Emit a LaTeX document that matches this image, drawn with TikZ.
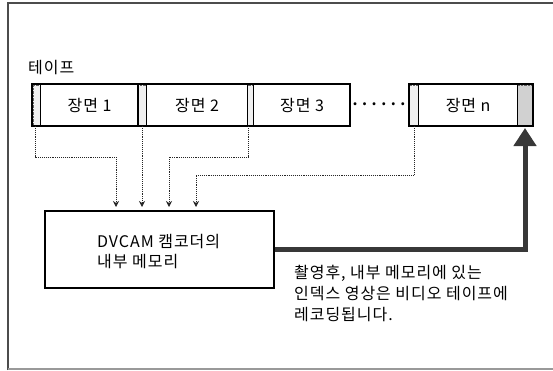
\documentclass[tikz,border=0pt]{standalone}
\usepackage{fontspec}
\setmainfont{Noto Sans CJK KR}[LetterSpace=6]
\usetikzlibrary{arrows.meta}
\begin{document}
\begin{tikzpicture}[x=1pt,y=-1pt,
  txt/.style={font=\fontsize{16}{20}\selectfont, inner sep=0pt},
  scene/.style={draw, line width=1.2pt, minimum height=42pt, inner sep=0pt, anchor=north west, font=\fontsize{16}{20}\selectfont},
  strip/.style={draw=black!60, densely dotted, fill=black!6},
  conn/.style={draw=black!85, densely dotted, line width=0.9pt, -{Stealth[length=6pt,width=6pt]}},
  bigarrow/.style={draw=black!78, line width=5pt, -{Triangle[length=18pt,width=22pt]}},
  box/.style={draw, line width=1.6pt, inner sep=0pt, align=left}]
\useasboundingbox (0,0) rectangle (553,370);
% frame
\draw[black!70, line width=1.5pt] (8,370) -- (8,3) -- (553,3);
\draw[black!40, line width=1.5pt] (8,369) -- (553,369);
% label
\node[txt, anchor=west] (lab) at (28,68) {테이프};
% strips
\path[strip] (33,85) rectangle (40,125);
\path[strip] (138,85) rectangle (146,125);
\path[strip] (247,85) rectangle (253,125);
\path[strip] (409,85) rectangle (418,125);
\path[strip, fill=black!18] (517,85) rectangle (533,125);
% scenes
\node[scene, minimum width=98pt] (s1) at (40,84) {장면 1};
\node[scene, minimum width=101pt] (s2) at (146,84) {장면 2};
\node[scene, minimum width=97pt] (s3) at (253,84) {장면 3};
\node[scene, minimum width=99pt] (sn) at (418,84) {장면 n};
\draw[line width=2pt] (32,84) rectangle (350,126);
\draw[line width=2pt] (409,84) rectangle (533,126);
\draw[line width=1.2pt] (138,84) -- (138,126);
\node[txt, font=\fontsize{14}{20}\selectfont\bfseries] (dots) at (379,106) {·\hspace{1pt}·\hspace{1pt}·\hspace{1pt}·\hspace{1pt}·\hspace{1pt}·};
% memory box
\node[box, minimum width=229pt, minimum height=77pt, anchor=north west] (mem) at (44,210) {};
\node[txt, align=left, anchor=west, font=\fontsize{16}{20}\selectfont] (memtxt) at (97,252) {DVCAM 캠코더의\\내부 메모리};
% caption
\node[txt, align=left, anchor=north west, font=\fontsize{16}{21}\selectfont] (cap) at (294,265) {촬영후, 내부 메모리에 있는\\인덱스 영상은 비디오 테이프에\\레코딩됩니다.};
% connector points
\coordinate (c1) at (35,126);
\coordinate (c2) at (142,126);
\coordinate (c3) at (248,126);
\coordinate (c4) at (414,126);
\coordinate (m1) at (116,207);
\coordinate (m2) at (142,207);
\coordinate (m3) at (169,207);
\coordinate (m4) at (196,207);
\coordinate (tip) at (525,128);
\draw[conn] (c1) -- (c1 |- 0,157) -| (m1);
\draw[conn] (c2) -- (m2);
\draw[conn] (c3) -- (c3 |- 0,157) -| (m3);
\draw[conn] (c4) -- (c4 |- 0,175) -| (m4);
\draw[bigarrow] (mem.east) -| (tip);
\end{tikzpicture}
\end{document}
